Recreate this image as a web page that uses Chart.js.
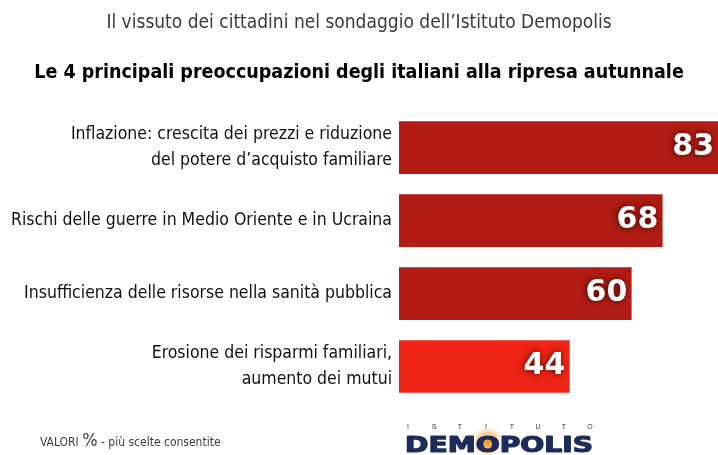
<!DOCTYPE html>
<html lang="it">
<head>
<meta charset="utf-8">
<title>Le 4 principali preoccupazioni degli italiani</title>
<script src="https://cdn.jsdelivr.net/npm/chart.js@4.4.1/dist/chart.umd.min.js"></script>
<style>
  html, body { margin: 0; padding: 0; background: #fff; }
  canvas { display: block; }
</style>
</head>
<body>
<canvas id="worriesChart" width="718" height="455"></canvas>
<script>
// Survey answers, % of respondents (multiple choices allowed)
const categories = [
    ['Inflazione: crescita dei prezzi e riduzione', 'del potere d\u2019acquisto familiare'],
    'Rischi delle guerre in Medio Oriente e in Ucraina',
    'Insufficienza delle risorse nella sanit\u00e0 pubblica',
    ['Erosione dei risparmi familiari,', 'aumento dei mutui']
];
const values = [83, 68, 60, 44];
const barColors = ['#b01c14', '#b01c14', '#b01c14', '#ee2414'];

const NARROW = '"Liberation Sans Narrow", "DejaVu Sans Condensed", "Liberation Sans", sans-serif';

// white value inside the end of each bar
const valueLabels = {
    id: 'valueLabels',
    afterDatasetsDraw(chart) {
        const ctx = chart.ctx;
        const meta = chart.getDatasetMeta(0);
        ctx.save();
        ctx.font = 'bold 30px "DejaVu Sans", sans-serif';
        ctx.textAlign = 'right';
        ctx.textBaseline = 'middle';
        ctx.fillStyle = '#ffffff';
        ctx.shadowColor = 'rgba(50, 0, 0, 0.85)';
        ctx.shadowBlur = 6;
        ctx.shadowOffsetX = -1;
        meta.data.forEach(function (bar, i) {
            ctx.fillText(String(values[i]), Math.min(bar.x, chart.width) - 4, bar.y);
        });
        ctx.restore();
    }
};

// footnote and institute logo under the bars
const footer = {
    id: 'footer',
    afterDraw(chart) {
        const ctx = chart.ctx;
        ctx.save();
        ctx.textBaseline = 'alphabetic';
        ctx.fillStyle = '#3c3c3c';
        let x = 40;
        const y = 446;
        ctx.font = '12px ' + NARROW;
        ctx.fillText('VALORI ', x, y);
        x += ctx.measureText('VALORI ').width;
        ctx.font = '18px ' + NARROW;
        ctx.fillText('%', x, y);
        x += ctx.measureText('%').width;
        ctx.font = '12px ' + NARROW;
        ctx.fillText(' - pi\u00f9 scelte consentite', x, y);

        // logo
        const left = 405, right = 593;
        ctx.font = '7px "Liberation Sans", sans-serif';
        ctx.fillStyle = '#333';
        ctx.textAlign = 'center';
        const small = 'ISTITUTO';
        const step = (right - left - 6) / (small.length - 1);
        for (let i = 0; i < small.length; i++) {
            ctx.fillText(small[i], left + 3 + i * step, 429);
        }
        ctx.textAlign = 'left';
        ctx.font = 'bold 21px "DejaVu Sans", sans-serif';
        const word = 'DEMOPOLIS';
        const sx = (right - left) / ctx.measureText(word).width;
        const oStart = ctx.measureText('DEM').width * sx;
        const oW = ctx.measureText('O').width * sx;
        const cx = left + oStart + oW / 2;
        const glow = ctx.createRadialGradient(cx, 442, 1, cx, 442, 16);
        glow.addColorStop(0, 'rgba(245, 150, 20, 0.95)');
        glow.addColorStop(0.6, 'rgba(245, 170, 60, 0.45)');
        glow.addColorStop(1, 'rgba(245, 190, 120, 0)');
        ctx.fillStyle = glow;
        ctx.beginPath();
        ctx.arc(cx, 442, 16, 0, Math.PI * 2);
        ctx.fill();
        ctx.translate(left, 452);
        ctx.scale(sx, 1);
        ctx.fillStyle = '#1c2a5c';
        ctx.strokeStyle = '#1c2a5c';
        ctx.lineWidth = 1.2;
        ctx.lineJoin = 'round';
        ctx.strokeText(word, 0, 0);
        ctx.fillText(word, 0, 0);
        ctx.restore();
    }
};

new Chart(document.getElementById('worriesChart').getContext('2d'), {
    type: 'bar',
    data: {
        labels: categories,
        datasets: [{
            data: values,
            backgroundColor: barColors,
            borderWidth: 0,
            barThickness: 52
        }]
    },
    options: {
        indexAxis: 'y',
        responsive: false,
        animation: false,
        layout: { padding: { top: 0, right: 0, bottom: 52, left: 0 } },
        plugins: {
            legend: { display: false },
            tooltip: { enabled: false },
            title: {
                display: true,
                text: 'Il vissuto dei cittadini nel sondaggio dell\u2019Istituto Demopolis',
                color: '#3a3a3a',
                font: { family: NARROW, size: 19, weight: 'normal', lineHeight: 1.2 },
                padding: { top: 12, bottom: 25 }
            },
            subtitle: {
                display: true,
                text: 'Le 4 principali preoccupazioni degli italiani alla ripresa autunnale',
                color: '#000',
                font: { family: NARROW, size: 19.5, weight: 'bold', lineHeight: 1.3 },
                padding: { top: 0, bottom: 26 }
            }
        },
        scales: {
            x: { display: false, min: 0, max: 82.4 },
            y: {
                grid: { display: false, drawTicks: false },
                border: { display: false },
                ticks: {
                    color: '#111',
                    padding: 7,
                    font: { family: NARROW, size: 17.5, lineHeight: 1.45 }
                },
                afterFit(scale) { scale.width = 399; }
            }
        }
    },
    plugins: [valueLabels, footer]
});
</script>
</body>
</html>
